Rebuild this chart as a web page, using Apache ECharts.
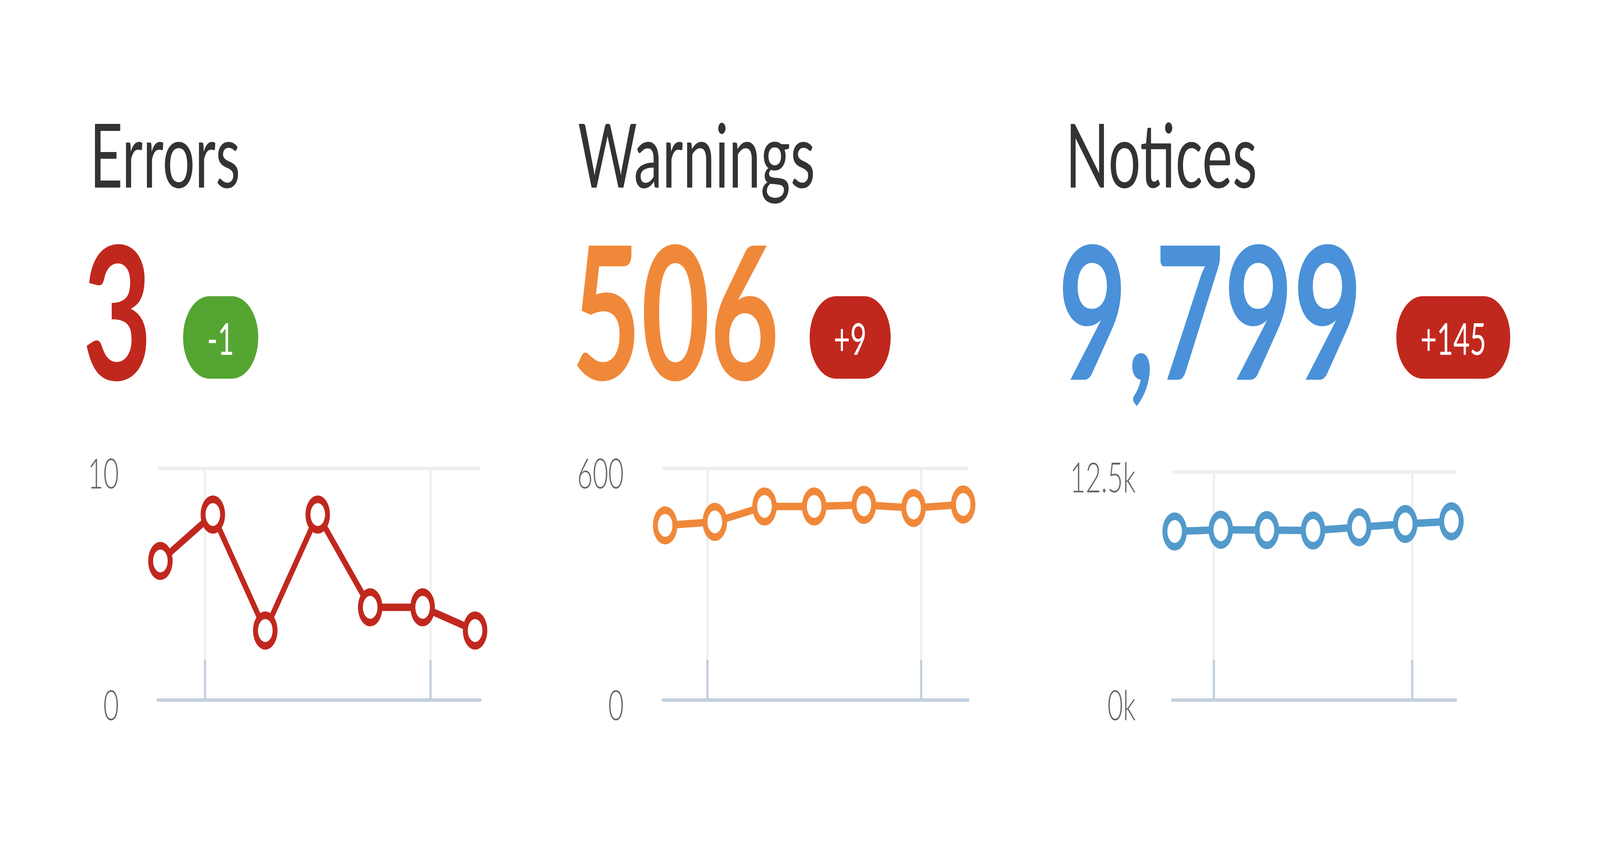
<!DOCTYPE html>
<html><head><meta charset="utf-8">
<script src="https://cdn.jsdelivr.net/npm/echarts@6/dist/echarts.min.js"></script>
<style>
html,body{margin:0;padding:0;background:#fff;overflow:hidden}
#wrap{position:fixed;left:0;top:0;width:100vw;height:100vh;overflow:hidden;background:#fff}
#c{width:6379px;height:2193px;transform-origin:0 0}
</style>
</head><body><div id="wrap"><div id="c"></div></div>
<script>
// ---- data ----
const panelNames = ['Errors', 'Warnings', 'Notices'];
const xPositions = [0, 1, 2, 3, 4, 5, 6];
const xTickValues = [0.85, 5.15];
const errorsValues = [6, 8, 3, 8, 4, 4, 3];
const warningsValues = [452, 461, 501, 501, 505, 497, 506];
const noticesValues = [9245, 9340, 9320, 9295, 9480, 9654, 9799];
const yAxisMax = [10, 600, 12500];
const yTickLabels = [['0', '10'], ['0', '600'], ['0k', '12.5k']];

// ---- styles / layout (reference pixel space 6379 x 2193) ----
const W = 6379, H = 2193;
const lineColors = ['#c0281e', '#f0883a', '#529acb'];
const numberColors = ['#c0281e', '#f0883a', '#4a91d9'];
const badgeUp = '#c0281e', badgeDown = '#55a532';
const layout = [
  {gridLeft: 629, gridRight: 1915, gridTop: 1198, labelMargin: 155, titleX: 358, numX: 330, badgeX: 730},
  {gridLeft: 2642, gridRight: 3860, gridTop: 1198, labelMargin: 155, titleX: 2304, numX: 2280, badgeX: 3228},
  {gridLeft: 4674, gridRight: 5805, gridTop: 1208, labelMargin: 146, titleX: 4248, numX: 4218, badgeX: 5567}
];
const gridBottomY = 1791.5;
const allValues = [errorsValues, warningsValues, noticesValues];

// fit the full-size drawing into whatever window the page gets
const host = document.getElementById('c');
const sx = window.innerWidth / W, sy = window.innerHeight / H;
host.style.transform = 'scale(' + sx + ',' + sy + ')';

const chart = echarts.init(host, null, {width: W, height: H, renderer: 'svg'});

const grids = [], xAxes = [], yAxes = [], series = [], graphics = [];
allValues.forEach((vals, i) => {
  const L = layout[i];
  grids.push({left: L.gridLeft, top: L.gridTop, width: L.gridRight - L.gridLeft, height: gridBottomY - L.gridTop});
  xAxes.push({
    type: 'value', gridIndex: i, min: -0.05, max: 6.1, z: 2,
    axisLine: {show: true, onZero: false, lineStyle: {color: '#c4d0df', width: 9}},
    axisTick: {show: true, inside: true, length: 103, customValues: xTickValues, lineStyle: {color: '#c4d0df', width: 9}},
    axisLabel: {show: false},
    splitLine: {show: false}
  });
  yAxes.push({
    type: 'value', gridIndex: i, min: 0, max: yAxisMax[i], interval: yAxisMax[i],
    axisLine: {show: false}, axisTick: {show: false},
    splitLine: {show: true, lineStyle: {color: '#efefef', width: 9}},
    axisLabel: {
      margin: L.labelMargin, color: '#666666', fontFamily: 'Lato', fontWeight: 300, fontSize: 107,
      verticalAlign: 'top', lineHeight: 20,
      formatter: v => (v === 0 ? yTickLabels[i][0] : yTickLabels[i][1])
    }
  });
  series.push({
    type: 'line', xAxisIndex: i, yAxisIndex: i, data: [], z: 1, silent: true,
    markLine: {
      z: 1, silent: true, symbol: ['none', 'none'], label: {show: false}, animation: false,
      lineStyle: {color: '#efefef', width: 9, type: 'solid'},
      emphasis: {disabled: true},
      data: xTickValues.map(v => ({xAxis: v}))
    }
  });
  series.push({
    type: 'line', xAxisIndex: i, yAxisIndex: i, z: 3,
    data: xPositions.map((x, j) => [x, vals[j]]),
    symbol: 'circle', symbolSize: 78, showSymbol: true,
    lineStyle: {color: lineColors[i], width: 19},
    itemStyle: {color: '#ffffff', borderColor: lineColors[i], borderWidth: 19.5},
    emphasis: {disabled: true}
  });
  const last = vals[vals.length - 1];
  const delta = last - vals[vals.length - 2];
  const deltaText = (delta > 0 ? '+' : '-') + Math.abs(delta).toLocaleString('en-US');
  graphics.push({
    type: 'text', x: L.titleX, y: 392,
    style: {text: panelNames[i], font: '400 228px Lato', fill: '#333333', align: 'left', verticalAlign: 'middle', lineHeight: 170}
  });
  graphics.push({
    type: 'text', x: L.numX, y: 788,
    style: {text: last.toLocaleString('en-US'), font: '700 475px Lato', fill: numberColors[i], align: 'left', verticalAlign: 'middle', lineHeight: 340}
  });
  graphics.push({
    type: 'text', x: L.badgeX, y: 863.5,
    style: {
      text: deltaText, font: '400 113px Lato', fill: '#ffffff', align: 'left', verticalAlign: 'middle',
      backgroundColor: delta > 0 ? badgeUp : badgeDown, padding: [0, 96, 12, 96], lineHeight: 199, borderRadius: 105
    }
  });
});

chart.setOption({
  animation: false,
  backgroundColor: '#ffffff',
  grid: grids, xAxis: xAxes, yAxis: yAxes, series: series,
  graphic: {elements: graphics}
});
</script></body></html>
